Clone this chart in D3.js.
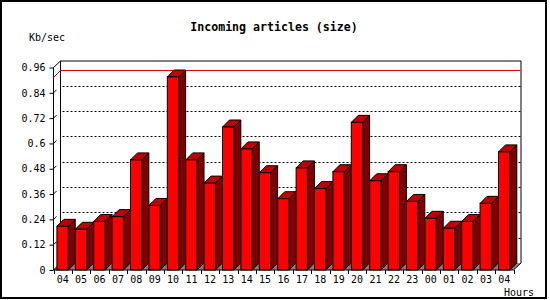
<!DOCTYPE html>
<html>
<head>
<meta charset="utf-8">
<script src="https://cdn.jsdelivr.net/npm/d3@7"></script>
<style>
  body { margin: 0; background: #fff; }
  text { font-family: "DejaVu Sans Mono", monospace; fill: #000; }
</style>
</head>
<body>
<div id="chart"></div>
<script>
// hours on the x axis, one bar each
var hours = ["04", "05", "06", "07", "08", "09", "10", "11", "12", "13", "14", "15", "16",
    "17", "18", "19", "20", "21", "22", "23", "00", "01", "02", "03", "04"];
// Kb/sec
var rates = [0.207, 0.193, 0.230, 0.253, 0.522, 0.306, 0.915, 0.522, 0.412, 0.678, 0.574, 0.461, 0.338,
    0.484, 0.386, 0.466, 0.700, 0.423, 0.466, 0.325, 0.245, 0.198, 0.230, 0.316, 0.560];
var yTicks = [0, 0.12, 0.24, 0.36, 0.48, 0.6, 0.72, 0.84, 0.96];
var yTickLabels = ["0", "0.12", "0.24", "0.36", "0.48", "0.6", "0.72", "0.84", "0.96"];

var plot = { left: 53.5, right: 513.5, bottom: 270, top: 67.5 },
    depth = 7;

var svg = d3.select("#chart")
    .append("svg")
    .attr("width", 550)
    .attr("height", 300);

// outer frame
svg.append("rect")
    .attr("x", 1).attr("y", 1)
    .attr("width", 545).attr("height", 297)
    .attr("fill", "none")
    .attr("stroke", "#000")
    .attr("stroke-width", 2);

var y = d3.scaleLinear().domain([0, 0.96]).range([plot.bottom, plot.top]);
var x = d3.scaleBand().domain(d3.range(hours.length)).range([plot.left, plot.right]);
var step = x.step(),
    barW = step * 0.615,
    barOff = step * 0.185;

// back wall outline
var bx0 = plot.left + depth, bx1 = plot.right + depth,
    by0 = y(0.96) - depth, by1 = y(0) - depth;

// floor
svg.append("path")
    .attr("d", "M" + plot.left + "," + plot.bottom + "L" + bx0 + "," + by1 + "L" + bx1 + "," + by1 +
        "L" + plot.right + "," + plot.bottom + "Z")
    .attr("fill", "#808080");

// dotted grid on the back wall
svg.selectAll(".grid")
    .data(yTicks.filter(function (d) { return d > 0 && d < 0.96; }))
    .enter()
    .append("line")
    .attr("x1", bx0 + 2).attr("x2", bx1)
    .attr("y1", function (d) { return Math.round(y(d) - depth) + 0.5; })
    .attr("y2", function (d) { return Math.round(y(d) - depth) + 0.5; })
    .attr("stroke", "#000")
    .attr("stroke-dasharray", "2,2");

// small slant marks at the front axis
svg.selectAll(".slant")
    .data(yTicks.filter(function (d) { return d > 0 && d < 0.96; }))
    .enter()
    .append("line")
    .attr("x1", plot.left).attr("x2", plot.left + 3)
    .attr("y1", function (d) { return y(d); })
    .attr("y2", function (d) { return y(d) - 3; })
    .attr("stroke", "#000");

// back wall edges
svg.append("path")
    .attr("d", "M" + bx0 + "," + by1 + "L" + bx0 + "," + (by0 + 0.5) + "L" + (bx1 + 0.5) + "," + (by0 + 0.5) +
        "L" + (bx1 + 0.5) + "," + by1 + "L" + plot.right + "," + plot.bottom)
    .attr("fill", "none")
    .attr("stroke", "#000");

// left side edges: front axis and top diagonal
svg.append("path")
    .attr("d", "M" + plot.left + "," + plot.bottom + "L" + plot.left + "," + plot.top +
        "L" + bx0 + "," + (by0 + 0.5) + "M" + plot.left + "," + plot.bottom + "L" + bx0 + "," + by1)
    .attr("fill", "none")
    .attr("stroke", "#000");

// max line
var maxV = d3.max(rates);
svg.append("path")
    .attr("d", "M" + plot.left + "," + (y(maxV) + 0.5) + "L" + bx0 + "," + (y(maxV) - depth + 0.5) +
        "L" + bx1 + "," + (y(maxV) - depth + 0.5))
    .attr("fill", "none")
    .attr("stroke", "#e00000");

// bars
var bars = svg.selectAll(".bar")
    .data(rates)
    .enter()
    .append("g");

bars.append("path")
    .attr("d", function (d, i) {
        var x0 = x(i) + barOff, x1 = x0 + barW, t = y(d);
        return "M" + x1 + "," + t + "L" + (x1 + depth) + "," + (t - depth) + "L" + (x1 + depth) + "," + (plot.bottom - depth) +
            "L" + x1 + "," + plot.bottom + "Z";
    })
    .attr("fill", "#800000")
    .attr("stroke", "#000");

bars.append("path")
    .attr("d", function (d, i) {
        var x0 = x(i) + barOff, x1 = x0 + barW, t = y(d);
        return "M" + x0 + "," + t + "L" + (x0 + depth) + "," + (t - depth) + "L" + (x1 + depth) + "," + (t - depth) +
            "L" + x1 + "," + t + "Z";
    })
    .attr("fill", "#c00000")
    .attr("stroke", "#000");

bars.append("rect")
    .attr("x", function (d, i) { return x(i) + barOff; })
    .attr("y", function (d) { return y(d); })
    .attr("width", barW)
    .attr("height", function (d) { return plot.bottom - y(d); })
    .attr("fill", "#ff0000")
    .attr("stroke", "#000");

// x axis line and ticks
svg.append("line")
    .attr("x1", plot.left).attr("x2", plot.right)
    .attr("y1", plot.bottom).attr("y2", plot.bottom)
    .attr("stroke", "#000");

svg.selectAll(".xtick")
    .data(d3.range(hours.length + 1))
    .enter()
    .append("line")
    .attr("x1", function (i) { return Math.round(plot.left + i * step) + 0.5; })
    .attr("x2", function (i) { return Math.round(plot.left + i * step) + 0.5; })
    .attr("y1", plot.bottom).attr("y2", plot.bottom + 4)
    .attr("stroke", "#000");

var xAxis = svg.append("g")
    .attr("transform", "translate(0," + plot.bottom + ")")
    .call(d3.axisBottom(x).tickSize(0).tickPadding(6).tickFormat(function (i) { return hours[i]; }));
xAxis.select(".domain").remove();
xAxis.selectAll("text").style("font-family", "DejaVu Sans Mono").style("font-size", "10px").attr("fill", "#000");

var yAxis = svg.append("g")
    .attr("transform", "translate(" + plot.left + ",0)")
    .call(d3.axisLeft(y).tickValues(yTicks).tickSize(4).tickPadding(4).tickSizeOuter(0)
        .tickFormat(function (d, i) { return yTickLabels[i]; }));
yAxis.select(".domain").remove();
yAxis.selectAll("line").attr("stroke", "#000");
yAxis.selectAll("text").style("font-family", "DejaVu Sans Mono").style("font-size", "10px").attr("fill", "#000");

svg.append("text")
    .attr("x", 274).attr("y", 31)
    .attr("text-anchor", "middle")
    .style("font-size", "11.6px")
    .style("font-weight", "bold")
    .text("Incoming articles (size)");

svg.append("text")
    .attr("x", 29).attr("y", 41)
    .style("font-size", "10px")
    .text("Kb/sec");

svg.append("text")
    .attr("x", 504).attr("y", 296)
    .style("font-size", "10px")
    .text("Hours");
</script>
</body>
</html>
